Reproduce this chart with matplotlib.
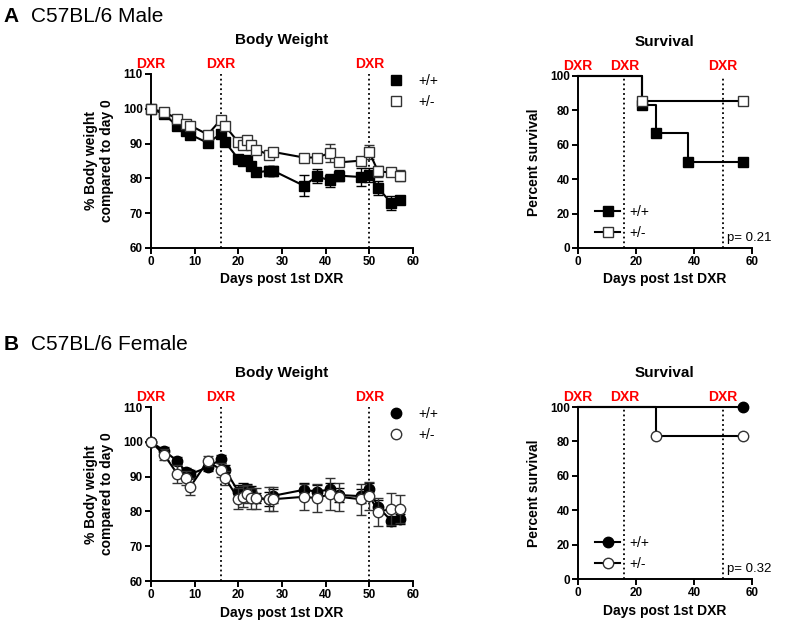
import matplotlib.pyplot as plt
from matplotlib.lines import Line2D

plt.rcParams["font.family"] = ["Liberation Sans", "DejaVu Sans"]

# body weight, days post 1st DXR
days = [0, 3, 6, 8, 9, 13, 16, 17, 20, 21, 22, 23, 24, 27, 28, 35, 38, 41, 43, 48, 50, 52, 55, 57]

male_wt = [100, 98.5, 95, 93.5, 92.6, 90.2, 92.8, 90.4, 85.6, 85, 85.2, 83.5, 81.7, 82.2, 82.2,
           77.9, 80.6, 79.4, 80.8, 80.4, 81.1, 77.3, 72.9, 73.9]
male_wt_err = [0, 0.5, 0.6, 0.7, 0.6, 0.6, 0.8, 0.8, 1.0, 1.0, 1.2, 1.0, 1.0, 1.5, 1.5,
               3.0, 2.0, 2.0, 1.5, 2.5, 2.0, 2.0, 2.0, 1.0]
male_het = [100, 99, 97.2, 95.7, 95.2, 92.6, 96.9, 95, 90.4, 89.7, 91.1, 89.5, 88.3, 86.8, 87.6,
            86, 86, 87.3, 84.6, 85.1, 87.5, 82, 81.7, 80.8]
male_het_err = [0, 0.4, 0.5, 0.5, 0.5, 0.6, 0.7, 0.7, 0.8, 0.8, 0.8, 0.8, 0.8, 0.8, 0.8,
                0.8, 0.8, 2.5, 1.0, 1.0, 2.0, 1.5, 1.0, 1.5]

female_wt = [100, 97.4, 94.5, 91.3, 90.7, 92.7, 95, 91.9, 85.7, 86.2, 86.3, 85.7, 83.8, 83.5, 84.5,
             86.2, 85.7, 86.3, 84.7, 84.4, 86.3, 81.3, 77.3, 77.8]
female_wt_err = [0, 1.0, 1.0, 1.2, 1.2, 1.2, 1.2, 1.5, 2.0, 2.0, 1.5, 1.5, 1.5, 2.0, 2.0,
                 2.0, 2.0, 2.0, 2.0, 2.0, 2.0, 2.0, 1.5, 1.5]
female_het = [100, 96.3, 90.8, 89.5, 87.1, 94.5, 91.9, 89.5, 83.6, 84.2, 85, 83.8, 83.8, 83.5, 83.5,
              84.2, 83.8, 85, 84.2, 83.5, 84.5, 79.9, 80.7, 80.7]
female_het_err = [0, 1.5, 2.5, 2.0, 2.5, 1.5, 2.0, 2.0, 3.0, 3.0, 2.5, 3.0, 3.0, 3.5, 3.5,
                  3.8, 4.0, 4.5, 4.0, 4.5, 4.0, 4.0, 4.5, 4.0]

# survival (Kaplan-Meier steps)
male_surv_t_wt = [0, 22, 27, 38, 57]
male_surv_wt = [100, 83.3, 66.7, 50, 50]
male_surv_t_het = [0, 22, 57]
male_surv_het = [100, 85.7, 85.7]
female_surv_t_wt = [0, 57]
female_surv_wt = [100, 100]
female_surv_t_het = [0, 27, 57]
female_surv_het = [100, 83.3, 83.3]

dxr_days = [0, 16, 50]
genotypes = ["+/+", "+/-"]

fig = plt.figure(figsize=(7.87, 6.25), dpi=100)


def style_axes(ax):
    for s in ["top", "right"]:
        ax.spines[s].set_visible(False)
    for s in ["left", "bottom"]:
        ax.spines[s].set_linewidth(1.4)
    ax.tick_params(width=1.4, length=4, labelsize=8.5, pad=2)
    for lab in ax.get_xticklabels() + ax.get_yticklabels():
        lab.set_fontweight("bold")


def add_dxr(ax, top):
    for d in dxr_days:
        if d > 0:
            ax.plot([d, d], [ax.get_ylim()[0], top], ls=":", color="black", lw=1.3, zorder=1)
        ax.text(d, 1.06, "DXR", color="red", fontweight="bold", fontsize=10,
                ha="center", va="center", transform=ax.get_xaxis_transform())


def weight_panel(rect, wt, wt_err, het, het_err, marker):
    ax = fig.add_axes(rect)
    ax.set_xlim(0, 60)
    ax.set_ylim(60, 110)
    ax.set_xticks(range(0, 61, 10))
    ax.set_yticks(range(60, 111, 10))
    ax.errorbar(days, wt, yerr=wt_err, color="black", lw=1.5, marker=marker, ms=7.5,
                mfc="black", mec="black", capsize=3.5, elinewidth=1, zorder=3, clip_on=False)
    ax.errorbar(days, het, yerr=het_err, color="black", lw=1.5, marker=marker, ms=7.5,
                mfc="white", mec="#333333", capsize=3.5, elinewidth=1, ecolor="#333333",
                zorder=4, clip_on=False)
    style_axes(ax)
    add_dxr(ax, 110)
    ax.text(0.5, 1.195, "Body Weight", transform=ax.transAxes, ha="center", va="center",
            fontsize=11, fontweight="bold")
    ax.set_xlabel("Days post 1st DXR", fontsize=10, fontweight="bold", labelpad=3)
    ax.set_ylabel("% Body weight\ncompared to day 0", fontsize=10, fontweight="bold", labelpad=6)
    handles = [Line2D([], [], ls="none", marker=marker, ms=7.5, mfc="black", mec="black"),
               Line2D([], [], ls="none", marker=marker, ms=7.5, mfc="white", mec="#333333")]
    ax.legend(handles, genotypes, loc="upper left", bbox_to_anchor=(0.86, 1.03),
              frameon=False, fontsize=10, handletextpad=0.6, labelspacing=0.45,
              borderaxespad=0)
    return ax


def survival_panel(rect, t_wt, s_wt, t_het, s_het, marker, pval):
    ax = fig.add_axes(rect)
    ax.set_xlim(0, 60)
    ax.set_ylim(0, 100)
    ax.set_xticks([0, 20, 40, 60])
    ax.set_yticks(range(0, 101, 20))
    ax.plot(t_wt, s_wt, drawstyle="steps-post", color="black", lw=1.5, zorder=3, clip_on=False)
    ax.plot(t_wt[1:], s_wt[1:], ls="none", marker=marker, ms=7.5, mfc="black", mec="black",
            zorder=5, clip_on=False)
    ax.plot(t_het, s_het, drawstyle="steps-post", color="black", lw=1.5, zorder=3, clip_on=False)
    ax.plot(t_het[1:], s_het[1:], ls="none", marker=marker, ms=7.5, mfc="white", mec="#333333",
            zorder=6, clip_on=False)
    style_axes(ax)
    add_dxr(ax, 100)
    ax.text(0.5, 1.2, "Survival", transform=ax.transAxes, ha="center", va="center",
            fontsize=11, fontweight="bold")
    ax.set_xlabel("Days post 1st DXR", fontsize=10, fontweight="bold", labelpad=3)
    ax.set_ylabel("Percent survival", fontsize=10, fontweight="bold", labelpad=6)
    ax.text(51.5, 6, "p= " + pval, fontsize=9.5, va="center")
    handles = [Line2D([], [], color="black", lw=1.5, marker=marker, ms=7.5, mfc="black", mec="black"),
               Line2D([], [], color="black", lw=1.5, marker=marker, ms=7.5, mfc="white", mec="#333333")]
    ax.legend(handles, genotypes, loc="lower left", bbox_to_anchor=(0.05, 0.0), frameon=False,
              fontsize=10, handlelength=1.8, handletextpad=0.7, labelspacing=0.5, borderaxespad=0.2)
    return ax


weight_panel([0.1919, 0.6032, 0.3329, 0.2784], male_wt, male_wt_err, male_het, male_het_err, "s")
survival_panel([0.7344, 0.6032, 0.2211, 0.2752], male_surv_t_wt, male_surv_wt,
               male_surv_t_het, male_surv_het, "s", "0.21")
weight_panel([0.1919, 0.0704, 0.3329, 0.2784], female_wt, female_wt_err, female_het, female_het_err, "o")
survival_panel([0.7344, 0.0736, 0.2211, 0.2752], female_surv_t_wt, female_surv_wt,
               female_surv_t_het, female_surv_het, "o", "0.32")

fig.text(0.004, 0.973, "A", fontsize=15, fontweight="bold", va="center")
fig.text(0.040, 0.973, "C57BL/6 Male", fontsize=15, va="center")
fig.text(0.004, 0.448, "B", fontsize=15, fontweight="bold", va="center")
fig.text(0.040, 0.448, "C57BL/6 Female", fontsize=15, va="center")

fig.savefig("out.png", dpi=100)
